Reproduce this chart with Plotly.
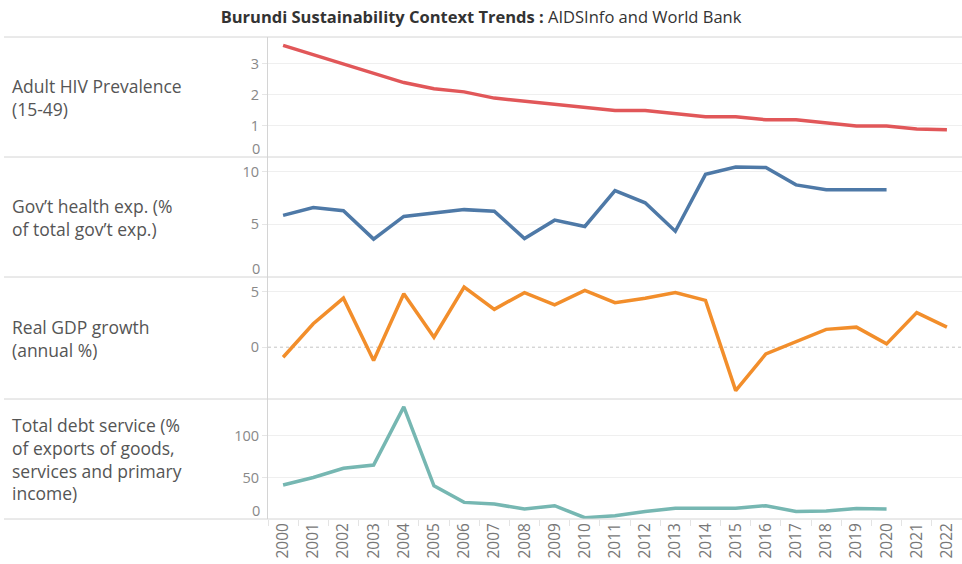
import plotly.graph_objects as go

# ---------------- data ----------------
years = [str(y) for y in range(2000, 2023)]
hiv_prevalence = [3.6, 3.3, 3.0, 2.7, 2.4, 2.2, 2.1, 1.9, 1.8, 1.7, 1.6, 1.5,
                  1.5, 1.4, 1.3, 1.3, 1.2, 1.2, 1.1, 1.0, 1.0, 0.9, 0.88]
gov_health_exp = [5.85, 6.6, 6.3, 3.6, 5.75, 6.1, 6.4, 6.25, 3.65, 5.4, 4.8, 8.2,
                  7.05, 4.35, 9.75, 10.45, 10.4, 8.75, 8.3, 8.3, 8.3, None, None]
gdp_growth = [-0.9, 2.1, 4.4, -1.2, 4.8, 0.9, 5.4, 3.4, 4.9, 3.8, 5.1, 4.0,
              4.4, 4.9, 4.2, -3.9, -0.6, 0.5, 1.6, 1.8, 0.3, 3.1, 1.8]
debt_service = [41, 50, 61, 65, 135, 40, 20, 18, 12, 16, 1.5, 4,
                9, 13, 13, 13, 16, 9, 9.5, 12.5, 12, None, None]

row_labels = ["Adult HIV Prevalence<br>(15-49)",
              "Gov\u2019t health exp. (%<br>of total gov\u2019t exp.)",
              "Real GDP growth<br>(annual %)",
              "Total debt service (%<br>of exports of goods,<br>services and primary<br>income)"]
tick_values = [[1, 2, 3], [5, 10], [0, 5], [50, 100]]
y_ranges = [[0, 3.87], [0, 11.4], [-4.65, 6.3], [0, 144.5]]
zero_label_panels = [0, 1, 3]
colors = ["#e15759", "#4e79a7", "#f28e2b", "#76b7b2"]
series = [hiv_prevalence, gov_health_exp, gdp_growth, debt_service]

# ---------------- layout geometry ----------------
W, H = 962, 564
L, T, B = 268, 37, 45
plot_w = W - L
plot_h = H - T - B
bounds_px = [37, 157, 277, 399, 519]


def py(px):
    return (519 - px) / plot_h


domains = [[py(bounds_px[i + 1]), py(bounds_px[i])] for i in range(4)]
FONT = "Open Sans"

fig = go.Figure()
for i, (vals, col) in enumerate(zip(series, colors)):
    fig.add_trace(go.Scatter(
        x=years, y=vals, mode="lines",
        line=dict(color=col, width=3.5),
        xaxis="x", yaxis="y" if i == 0 else f"y{i+1}",
        showlegend=False, connectgaps=False,
    ))

layout = dict(
    width=W, height=H,
    margin=dict(l=L, r=0, t=T, b=B),
    plot_bgcolor="white", paper_bgcolor="white",
    font=dict(family=FONT, color="#555"),
    title=dict(
        text="<b>Burundi Sustainability Context Trends :</b> AIDSInfo and World Bank",
        font=dict(family=FONT, size=16.5, color="#333"),
        x=0.5, xref="container", xanchor="center",
        y=1 - 17 / H, yref="container", yanchor="middle",
    ),
    xaxis=dict(
        type="category", anchor="y4", domain=[0, 1], range=[-0.5, 22.5],
        tickangle=-90, ticks="outside", tickson="boundaries", ticklen=6,
        tickcolor="#e4e4e4", showgrid=False, showline=False, zeroline=False,
        tickfont=dict(family=FONT, size=15.5, color="#777"),
    ),
)

for i in range(4):
    key = "yaxis" if i == 0 else f"yaxis{i+1}"
    ax = dict(
        domain=domains[i], anchor="x", range=y_ranges[i],
        tickmode="array", tickvals=tick_values[i],
        showline=True, linecolor="#d4d4d4", linewidth=1,
        zeroline=False, ticks="outside", ticklen=5, tickcolor="#e6e6e6",
        tickfont=dict(family=FONT, size=14.5, color="#888"),
        showgrid=True, gridcolor="#efefef", gridwidth=1,
    )
    if i == 2:
        ax["showgrid"] = False
        ax["minor"] = dict(tickvals=[5], showgrid=True, gridcolor="#efefef", ticks="")
    layout[key] = ax

fig.update_layout(**layout)

shapes = []
# panel separators
for bp in bounds_px:
    shapes.append(dict(type="line", xref="paper", yref="paper",
                       x0=(4 - L) / plot_w, x1=1, y0=py(bp), y1=py(bp),
                       line=dict(color="#d4d4d4", width=1), layer="above"))
# dotted zero line for GDP growth
shapes.append(dict(type="line", xref="paper", yref="y3", x0=0, x1=1, y0=0, y1=0,
                   line=dict(color="#c4c4c4", width=1, dash="dot"), layer="below"))
fig.update_layout(shapes=shapes)

annotations = []
for i, lab in enumerate(row_labels):
    annotations.append(dict(
        text=lab, xref="paper", yref="paper",
        x=(10 - L) / plot_w, y=(domains[i][0] + domains[i][1]) / 2,
        xanchor="left", yanchor="middle", align="left", showarrow=False,
        font=dict(family=FONT, size=17.5, color="#555"),
    ))
for i in zero_label_panels:
    annotations.append(dict(
        text="0", xref="paper", yref="y" if i == 0 else f"y{i+1}",
        x=0, y=0, xanchor="right", yanchor="middle", showarrow=False,
        xshift=-6, yshift=9,
        font=dict(family=FONT, size=14.5, color="#888"),
    ))
fig.update_layout(annotations=annotations)

fig.write_html("out.html",
               config={"displayModeBar": False},
               post_script="document.body.style.margin='0';document.body.style.padding='0';")
